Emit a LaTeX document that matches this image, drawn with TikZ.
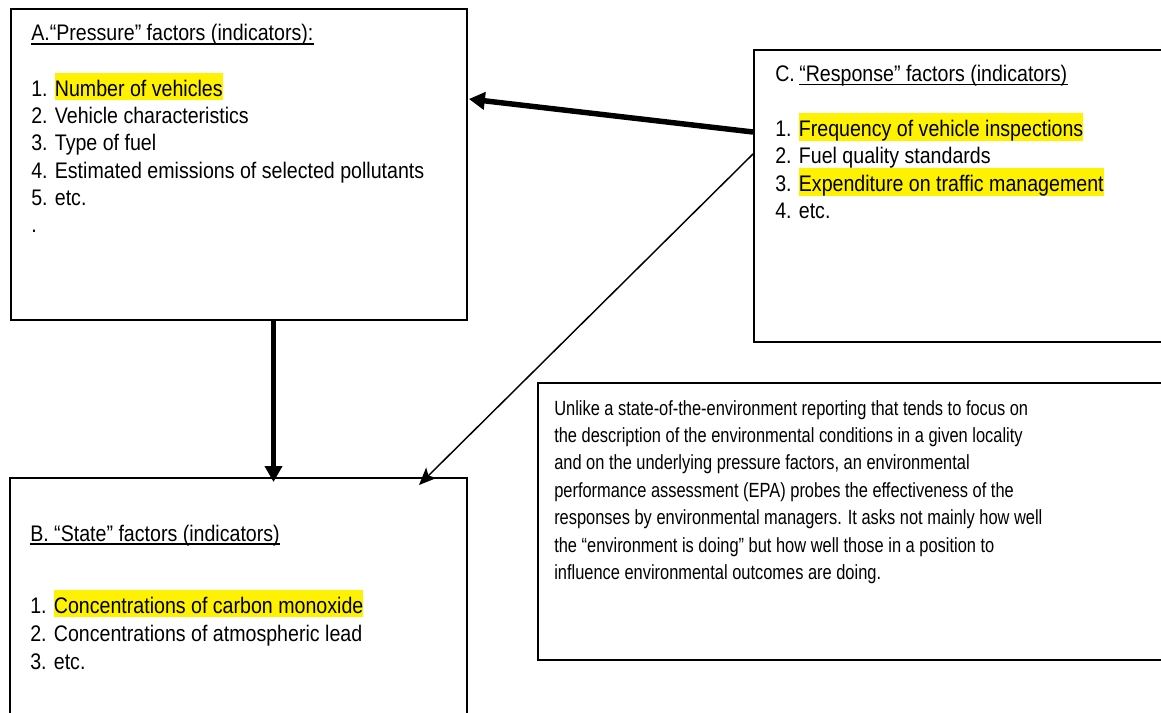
\documentclass[tikz,border=0pt]{standalone}
\usepackage{fontspec}
\setmainfont{Liberation Sans}
\newfontfamily\boxfnt[FakeStretch=0.87]{Liberation Sans}
\newfontfamily\notefnt[FakeStretch=0.8]{Liberation Sans}
\usetikzlibrary{arrows.meta,calc}
\newcommand\hlt[1]{{\setlength{\fboxsep}{0pt}\colorbox{yellow}{\rule[-3pt]{0pt}{20.5pt}#1}}}
\tikzset{
  box/.style={draw, line width=1.4pt, inner sep=0pt, anchor=north west},
  txt/.style={inner sep=0pt, anchor=base west, font=\boxfnt\fontsize{16.9pt}{20pt}\selectfont},
  note/.style={inner sep=0pt, anchor=base west, font=\notefnt\fontsize{15.4pt}{20pt}\selectfont},
  ul/.style={line width=0.9pt},
  fat/.style={line width=4.1pt, -{Triangle[length=12pt,width=12.75pt]}},
  slim/.style={line width=1.1pt, -{Stealth[length=13pt,width=11pt,inset=3pt]}}
}
\begin{document}
\begin{tikzpicture}[x=0.75pt,y=-0.75pt]
\useasboundingbox (0,0) rectangle (1161,713);
\clip (0,0) rectangle (1161,713);
\fill[white] (0,0) rectangle (1161,713);
% boxes
\node[box, minimum width=342pt, minimum height=233.25pt] (A) at (10,8) {};
\node[box, minimum width=345pt, minimum height=219pt] (C) at (753,49) {};
\node[box, minimum width=342.75pt, minimum height=195pt] (B) at (9,477) {};
\node[box, minimum width=495pt, minimum height=207.75pt] (T) at (537,382) {};
% box A text
\node[txt] (aT) at (31,41) {A.“Pressure” factors (indicators):};
\draw[ul] ($(aT.base west)+(0,3)$) -- ($(aT.base east)+(0,3)$);
\node[txt] (a1) at (31,96.5) {1. \hlt{Number of vehicles}};
\node[txt] (a2) at (31,123.7) {2. Vehicle characteristics};
\node[txt] (a3) at (31,150.9) {3. Type of fuel};
\node[txt] (a4) at (31,178.1) {4. Estimated emissions of selected pollutants};
\node[txt] (a5) at (31,205.3) {5. etc.};
\node[txt] (a6) at (31,232.5) {.};
% box C text
\node[txt] (cT0) at (775,81.5) {C.};
\node[txt] (cT) at (799,81.5) {“Response” factors (indicators)};
\draw[ul] ($(cT.base west)+(0,3)$) -- ($(cT.base east)+(0,3)$);
\node[txt] (c1) at (775,136.5) {1. \hlt{Frequency of vehicle inspections}};
\node[txt] (c2) at (775,164) {2. Fuel quality standards};
\node[txt] (c3) at (775,191.5) {3. \hlt{Expenditure on traffic management}};
\node[txt] (c4) at (775,219) {4. etc.};
% box B text
\node[txt] (bT) at (30,541) {B. “State” factors (indicators)};
\draw[ul] ($(bT.base west)+(0,3)$) -- ($(bT.base east)+(0,3)$);
\node[txt] (b1) at (30,613) {1. \hlt{Concentrations of carbon monoxide}};
\node[txt] (b2) at (30,641) {2. Concentrations of atmospheric lead};
\node[txt] (b3) at (30,669) {3. etc.};
% note text
\node[note] (t1) at (554,415) {Unlike a state-of-the-environment reporting that tends to focus on};
\node[note] (t2) at (554,442.4) {the description of the environmental conditions in a given locality};
\node[note] (t3) at (554,469.8) {and on the underlying pressure factors, an environmental};
\node[note] (t4) at (554,497.2) {performance assessment (EPA) probes the effectiveness of the};
\node[note] (t5) at (554,524.6) {responses by environmental managers. It asks not mainly how well};
\node[note] (t6) at (554,552) {the “environment is doing” but how well those in a position to};
\node[note] (t7) at (554,579.4) {influence environmental outcomes are doing.};
% connectors
\draw[fat] ($(C.north west)+(0,83)$) -- ($(A.north east)+(1,91)$);
\draw[fat] ($(A.south west)+(263.5,0)$) -- ($(B.north west)+(264.5,5)$);
\draw[slim] ($(C.north west)+(0,105)$) -- ($(B.north west)+(410,8)$);
\end{tikzpicture}
\end{document}
